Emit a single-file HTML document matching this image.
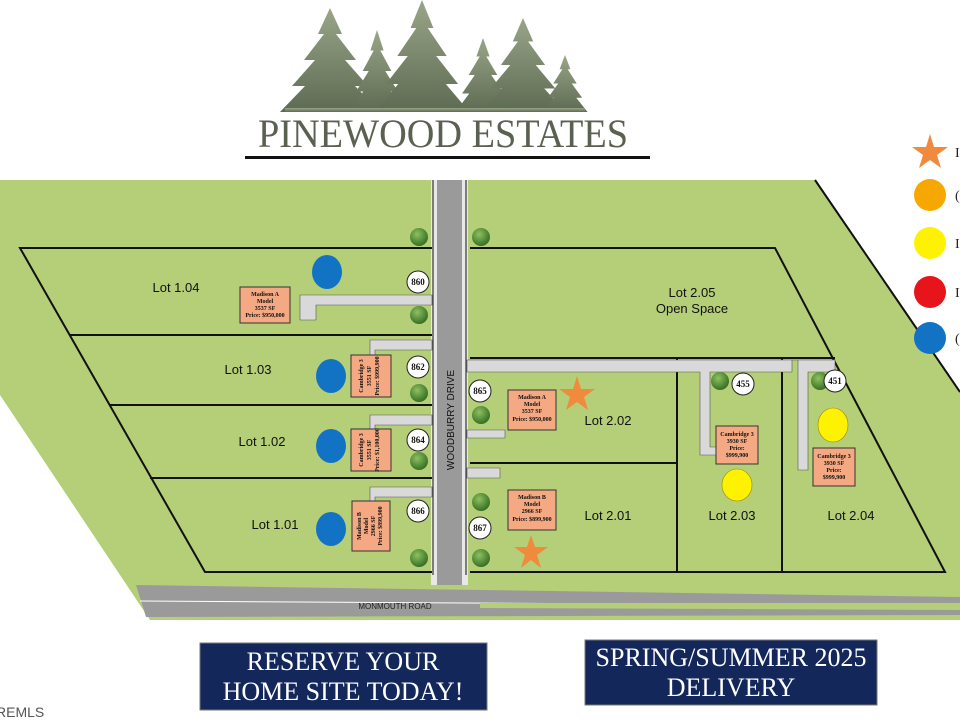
<!DOCTYPE html>
<html><head><meta charset="utf-8"><style>
html,body{margin:0;padding:0;background:#fff;}
svg{display:block}
.t{font-family:"Liberation Serif",serif;font-weight:bold;fill:#111;text-anchor:middle}
</style></head><body>
<svg width="960" height="720" viewBox="0 0 960 720" xmlns="http://www.w3.org/2000/svg">
<defs>
<linearGradient id="tg" x1="0" y1="0" x2="0" y2="1"><stop offset="0" stop-color="#9aa588"/><stop offset="1" stop-color="#5d6b52"/></linearGradient>
<radialGradient id="bush" cx="0.4" cy="0.35" r="0.7"><stop offset="0" stop-color="#8fc060"/><stop offset="1" stop-color="#2f6a1f"/></radialGradient>
<polygon id="tree" points="0,0 0.12,0.25 0.06,0.25 0.26,0.5 0.15,0.5 0.38,0.75 0.25,0.75 0.5,1 -0.5,1 -0.25,0.75 -0.38,0.75 -0.15,0.5 -0.26,0.5 -0.06,0.25 -0.12,0.25"/>
</defs>
<!-- trees -->
<g fill="url(#tg)">
<use href="#tree" transform="translate(330,8) scale(100,104)"/>
<use href="#tree" transform="translate(377,30) scale(55,82)"/>
<use href="#tree" transform="translate(422,0) scale(95,112)"/>
<use href="#tree" transform="translate(483,38) scale(55,74)"/>
<use href="#tree" transform="translate(523,18) scale(85,94)"/>
<use href="#tree" transform="translate(565,55) scale(45,57)"/>
<rect x="285" y="108" width="300" height="4"/>
</g>
<text x="443" y="147" font-family="Liberation Serif,serif" font-size="40" fill="#5a6150" text-anchor="middle" textLength="370" lengthAdjust="spacingAndGlyphs">PINEWOOD ESTATES</text>
<rect x="245" y="156" width="405" height="3" fill="#111"/>
<!-- green land -->
<polygon points="0,180 815,180 960,392 960,620 150,620 0,395" fill="#b5ce78"/>
<!-- monmouth road -->
<polygon points="136,585 960,597 960,615 146,617" fill="#9a9a9a"/>
<line x1="140" y1="601" x2="960" y2="606" stroke="#fff" stroke-width="1"/>
<polygon points="960,603 480,603 480,608 960,610" fill="#b5ce78"/>
<text x="395" y="609" font-family="Liberation Sans,sans-serif" font-size="8" fill="#222" text-anchor="middle">MONMOUTH ROAD</text>
<!-- woodburry drive -->
<rect x="431" y="180" width="37" height="405" fill="#e8e8e8"/>
<rect x="437" y="180" width="25" height="405" fill="#9a9a9a"/>
<line x1="433" y1="180" x2="433" y2="575" stroke="#111" stroke-width="1"/>
<line x1="466" y1="180" x2="466" y2="575" stroke="#111" stroke-width="1"/>
<text transform="translate(454,420) rotate(-90)" font-family="Liberation Sans,sans-serif" font-size="10" fill="#111" text-anchor="middle">WOODBURRY DRIVE</text>
<!-- lot lines -->
<g fill="none" stroke="#111" stroke-width="2">
<polyline points="432,248 20,248 205,572 432,572"/>
<line x1="70" y1="335" x2="432" y2="335"/>
<line x1="110" y1="405" x2="432" y2="405"/>
<line x1="150" y1="478" x2="432" y2="478"/>
<polyline points="470,248 775,248 945,572 470,572"/>
<line x1="470" y1="358" x2="835" y2="358"/>
<line x1="470" y1="463" x2="677" y2="463"/>
<line x1="677" y1="358" x2="677" y2="572"/>
<line x1="782" y1="358" x2="782" y2="572"/>
<line x1="815" y1="180" x2="960" y2="392"/>
</g>
<!-- driveways -->
<g fill="#d9d9d9" stroke="#555" stroke-width="0.6">
<path d="M300,295 H432 V305 H316 V320 H300 Z"/>
<path d="M370,340 H432 V350 H375 V358 H370 Z"/>
<path d="M370,415 H432 V425 H375 V432 H370 Z"/>
<path d="M370,487 H432 V497 H375 V503 H370 Z"/>
<path d="M467,360 H835 V372 H808 V470 H798 V360 H792 V372 H710 V447 H718 V455 H700 V372 H467 Z"/>
<path d="M467,430 H505 V438 H467 Z"/>
<path d="M467,468 H500 V478 H467 Z"/>
</g>
<!-- bushes -->
<g fill="url(#bush)">
<circle cx="419" cy="237" r="9"/><circle cx="481" cy="237" r="9"/>
<circle cx="419" cy="315" r="9"/><circle cx="419" cy="393" r="9"/><circle cx="419" cy="461" r="9"/>
<circle cx="419" cy="558" r="9"/><circle cx="481" cy="415" r="9"/><circle cx="481" cy="502" r="9"/>
<circle cx="481" cy="558" r="9"/><circle cx="720" cy="381" r="9"/><circle cx="820" cy="381" r="9"/>
</g>
<!-- house numbers -->
<g fill="#fff" stroke="#222" stroke-width="1">
<circle cx="418" cy="282" r="11"/><circle cx="418" cy="367" r="11"/><circle cx="418" cy="440" r="11"/>
<circle cx="418" cy="511" r="11"/><circle cx="480" cy="391" r="11"/><circle cx="480" cy="528" r="11"/>
<circle cx="743" cy="384" r="11"/><circle cx="835" cy="381" r="11"/>
</g>
<g class="t" font-size="9">
<text x="418" y="285">860</text><text x="418" y="370">862</text><text x="418" y="443">864</text>
<text x="418" y="514">866</text><text x="480" y="394">865</text><text x="480" y="531">867</text>
<text x="743" y="387">455</text><text x="835" y="384">451</text>
</g>
<!-- house boxes -->
<g fill="#f4a982" stroke="#333" stroke-width="1">
<rect x="240" y="287" width="50" height="36"/>
<rect x="351" y="355" width="40" height="42"/>
<rect x="351" y="429" width="40" height="42"/>
<rect x="352" y="501" width="38" height="50"/>
<rect x="508" y="390" width="48" height="40"/>
<rect x="508" y="490" width="48" height="40"/>
<rect x="716" y="426" width="42" height="38"/>
<rect x="813" y="448" width="42" height="38"/>
</g>
<g class="t" font-size="6">
<text x="265" y="296">Madison A</text><text x="265" y="303">Model</text><text x="265" y="310">3537 SF</text><text x="265" y="317">Price: $950,000</text>
<text x="532" y="399">Madison A</text><text x="532" y="406">Model</text><text x="532" y="413">3537 SF</text><text x="532" y="421">Price: $950,000</text>
<text x="532" y="499">Madison B</text><text x="532" y="506">Model</text><text x="532" y="513">2966 SF</text><text x="532" y="521">Price: $899,900</text>
<text x="737" y="436">Cambridge 3</text><text x="737" y="443">3930 SF</text><text x="737" y="450">Price:</text><text x="737" y="457">$999,900</text>
<text x="834" y="458">Cambridge 3</text><text x="834" y="465">3930 SF</text><text x="834" y="472">Price:</text><text x="834" y="479">$999,900</text>
<g transform="translate(371,376) rotate(-90)"><text x="0" y="-8">Cambridge 3</text><text x="0" y="0">3551 SF</text><text x="0" y="8">Price: $999,900</text></g>
<g transform="translate(371,450) rotate(-90)"><text x="0" y="-8">Cambridge 3</text><text x="0" y="0">3551 SF</text><text x="0" y="8">Price: $1,100,000</text></g>
<g transform="translate(371,526) rotate(-90)"><text x="0" y="-10">Madison B</text><text x="0" y="-3">Model</text><text x="0" y="4">2966 SF</text><text x="0" y="11">Price: $899,900</text></g>
</g>
<!-- circles -->
<g fill="#1273c4"><ellipse cx="327" cy="272" rx="15" ry="17"/><ellipse cx="331" cy="376" rx="15" ry="17"/><ellipse cx="331" cy="446" rx="15" ry="17"/><ellipse cx="331" cy="529" rx="15" ry="17"/></g>
<g fill="#fff200" stroke="#998800" stroke-width="0.6"><ellipse cx="737" cy="485" rx="15" ry="16"/><ellipse cx="833" cy="425" rx="15" ry="17"/></g>
<!-- stars -->
<g fill="#f08a3c">
<polygon points="577,376 581,389 595,389 584,397 588,410 577,402 566,410 570,397 559,389 573,389"/>
<polygon points="531,535 535,547 548,547 537,555 541,568 531,560 521,568 525,555 514,547 527,547"/>
<polygon points="930,134 934,147 948,147 937,155 941,168 930,160 919,168 923,155 912,147 926,147"/>
</g>
<!-- lot labels -->
<g font-family="Liberation Sans,sans-serif" font-size="13" fill="#111" text-anchor="middle">
<text x="176" y="292">Lot 1.04</text><text x="248" y="374">Lot 1.03</text><text x="262" y="446">Lot 1.02</text>
<text x="275" y="529">Lot 1.01</text><text x="692" y="297">Lot 2.05</text><text x="692" y="313">Open Space</text>
<text x="608" y="425">Lot 2.02</text><text x="608" y="520">Lot 2.01</text><text x="732" y="520">Lot 2.03</text><text x="851" y="520">Lot 2.04</text>
</g>
<!-- legend -->
<circle cx="930" cy="195" r="16" fill="#f7a800"/>
<circle cx="930" cy="243" r="16" fill="#fff200"/>
<circle cx="930" cy="292" r="16" fill="#e8141b"/>
<circle cx="930" cy="338" r="16" fill="#1273c4"/>
<g font-family="Liberation Serif,serif" font-size="14" fill="#222">
<text x="955" y="157">I</text><text x="955" y="200">(</text><text x="955" y="248">I</text><text x="955" y="297">I</text><text x="955" y="343">(</text>
</g>
<!-- banners -->
<rect x="200" y="643" width="287" height="67" fill="#13275b" stroke="#777" stroke-width="1"/>
<rect x="585" y="640" width="292" height="65" fill="#13275b" stroke="#777" stroke-width="1"/>
<g font-family="Liberation Serif,serif" font-size="26" fill="#fff" text-anchor="middle">
<text x="343" y="670">RESERVE YOUR</text><text x="343" y="700">HOME SITE TODAY!</text>
<text x="731" y="666">SPRING/SUMMER 2025</text><text x="731" y="696">DELIVERY</text>
</g>
<text x="-4" y="717" font-family="Liberation Sans,sans-serif" font-size="14" fill="#555">REMLS</text>
</svg>
</body></html>
